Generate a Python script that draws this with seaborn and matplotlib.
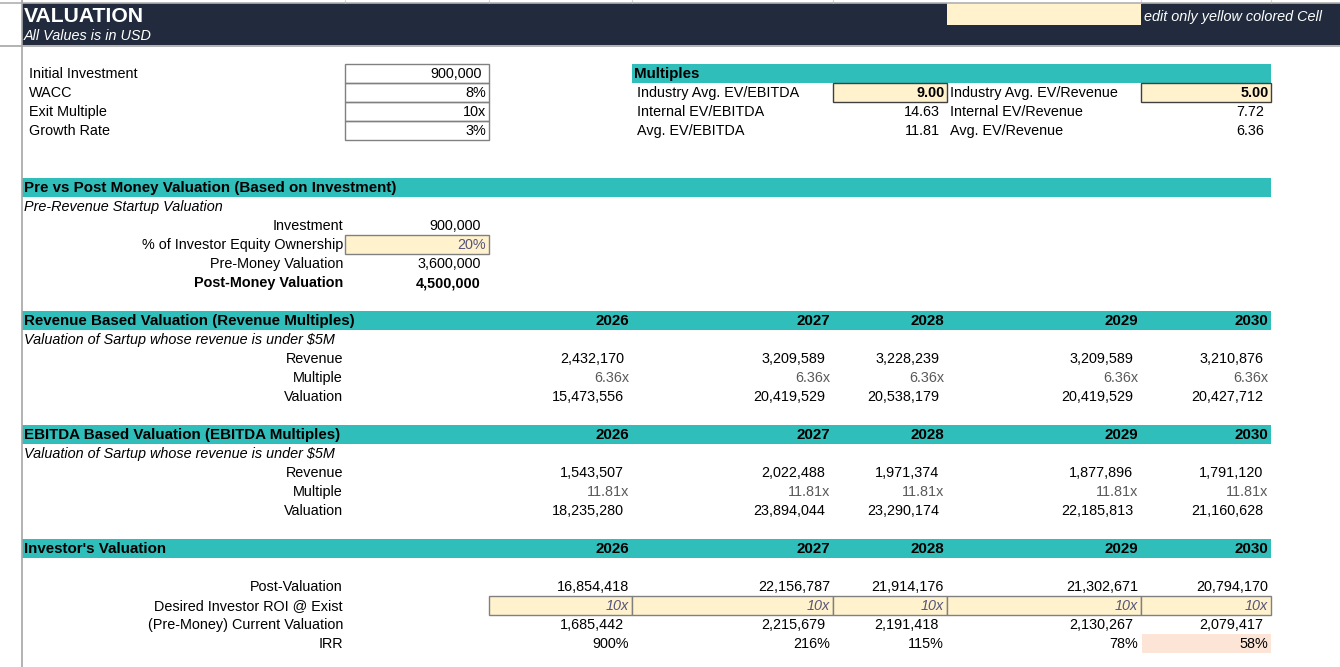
import numpy as np
import pandas as pd
import seaborn as sns
import matplotlib.pyplot as plt
from matplotlib.patches import Rectangle

# sheet values ----------------------------------------------------------------
years = [2026, 2027, 2028, 2029, 2030]

input_labels = ['Initial Investment', 'WACC', 'Exit Multiple', 'Growth Rate']
input_values = ['900,000', '8%', '10x', '3%']

ebitda_mult_labels = ['Industry Avg. EV/EBITDA', 'Internal EV/EBITDA', 'Avg. EV/EBITDA']
ebitda_mult_values = [9.00, 14.63, 11.81]
revenue_mult_labels = ['Industry Avg. EV/Revenue', 'Internal EV/Revenue', 'Avg. EV/Revenue']
revenue_mult_values = [5.00, 7.72, 6.36]

pre_labels = ['Investment', '% of Investor Equity Ownership', 'Pre-Money Valuation', 'Post-Money Valuation']
pre_values = ['900,000', '20%', '3,600,000', '4,500,000']

rev_revenue = [2432170, 3209589, 3228239, 3209589, 3210876]
rev_multiple = [6.36, 6.36, 6.36, 6.36, 6.36]
rev_valuation = [15473556, 20419529, 20538179, 20419529, 20427712]

ebitda_revenue = [1543507, 2022488, 1971374, 1877896, 1791120]
ebitda_multiple = [11.81, 11.81, 11.81, 11.81, 11.81]
ebitda_valuation = [18235280, 23894044, 23290174, 22185813, 21160628]

post_valuation = [16854418, 22156787, 21914176, 21302671, 20794170]
desired_roi = [10, 10, 10, 10, 10]
current_valuation = [1685442, 2215679, 2191418, 2130267, 2079417]
irr = [900, 216, 115, 78, 58]

# layout of the sheet ---------------------------------------------------------
year_right = [632, 833, 947, 1141, 1271]
roi_edges = [489, 632, 833, 947, 1141, 1271]
row_h = 19
row0 = 64
FS = 10.4
FS_HEAD = 10.9

NAVY = '#212b3d'
TEAL = '#30bebb'
YELLOW = '#fff2cc'
PINK = '#fce4d6'
GRID = '#d4d4d4'
BOX = '#808080'
DARKBOX = '#3f3f3f'
GREYTXT = '#595959'
INPUTTXT = '#55557a'


def top(r):
    return row0 + row_h * r


def mid(r):
    return top(r) + row_h / 2 + 0.5


def cell_text(ax, x, r, s, ha='left', **kw):
    kw.setdefault('fontsize', FS)
    kw.setdefault('color', 'black')
    ax.text(x, mid(r), s, ha=ha, va='center', **kw)


def box(ax, x0, x1, r, face='none', edge=BOX, lw=1.0):
    ax.add_patch(Rectangle((x0, top(r)), x1 - x0, row_h, facecolor=face,
                           edgecolor=edge, linewidth=lw, zorder=2))


def band(ax, x0, x1, r):
    ax.add_patch(Rectangle((x0, top(r)), x1 - x0, row_h, facecolor=TEAL,
                           edgecolor='none', zorder=1))


sns.set_theme(style='white')
plt.rcParams['font.family'] = ['Liberation Sans', 'DejaVu Sans']

fig = plt.figure(figsize=(13.4, 6.67), dpi=100)
ax = fig.add_axes([0, 0, 1, 1])
ax.set_xlim(0, 1340)
ax.set_ylim(667, 0)
ax.axis('off')

# gridlines above title and the left border
for x in [22, 345, 489, 632, 833, 1141, 1271]:
    ax.plot([x, x], [0, 3], color=GRID, lw=0.8)
ax.plot([0, 1340], [3, 3], color='#b0b0b0', lw=1.2)
ax.plot([22, 22], [0, 667], color='#a6a6a6', lw=1.2)

# title band
ax.add_patch(Rectangle((22, 3), 1318, 42, facecolor=NAVY, edgecolor='none'))
ax.plot([0, 1340], [45.5, 45.5], color='#a6a6a6', lw=1.2)
ax.add_patch(Rectangle((947, 3), 194, 22, facecolor=YELLOW, edgecolor='none'))
ax.text(24, 16.5, 'VALUATION', color='white', fontsize=15.2, fontweight='bold', va='center')
ax.text(24, 35.5, 'All Values is in USD', color='white', fontsize=FS, style='italic', va='center')
ax.text(1144, 16.5, 'edit only yellow colored Cell', color='white', fontsize=FS, style='italic', va='center')

# inputs
for i, (lab, val) in enumerate(zip(input_labels, input_values)):
    cell_text(ax, 29, i, lab)
    box(ax, 345, 489, i)
    pad = 7 if ',' in val else 3
    cell_text(ax, 489 - pad, i, val, ha='right')

# multiples
band(ax, 632, 1271, 0)
cell_text(ax, 634, 0, 'Multiples', fontweight='bold', fontsize=FS_HEAD)
for i in range(3):
    r = i + 1
    cell_text(ax, 637, r, ebitda_mult_labels[i])
    cell_text(ax, 950, r, revenue_mult_labels[i])
    if i == 0:
        box(ax, 833, 947, r, face=YELLOW, edge=DARKBOX)
        box(ax, 1141, 1271, r, face=YELLOW, edge=DARKBOX)
        cell_text(ax, 945, r, f'{ebitda_mult_values[i]:.2f}', ha='right', fontweight='bold')
        cell_text(ax, 1269, r, f'{revenue_mult_values[i]:.2f}', ha='right', fontweight='bold')
    else:
        cell_text(ax, 940, r, f'{ebitda_mult_values[i]:.2f}', ha='right')
        cell_text(ax, 1264, r, f'{revenue_mult_values[i]:.2f}', ha='right')

# pre vs post money
band(ax, 22, 1271, 6)
cell_text(ax, 24, 6, 'Pre vs Post Money Valuation (Based on Investment)', fontweight='bold', fontsize=FS_HEAD)
cell_text(ax, 24, 7, 'Pre-Revenue Startup Valuation', style='italic')
for i, (lab, val) in enumerate(zip(pre_labels, pre_values)):
    r = 8 + i
    bold = 'bold' if i == 3 else 'normal'
    cell_text(ax, 343, r, lab, ha='right', fontweight=bold)
    if i == 1:
        box(ax, 345, 489, r, face=YELLOW)
        cell_text(ax, 486, r, val, ha='right', color=INPUTTXT)
    else:
        cell_text(ax, 481, r, val, ha='right', fontweight=bold)


def year_header(r, title):
    band(ax, 22, 1271, r)
    cell_text(ax, 24, r, title, fontweight='bold', fontsize=FS_HEAD)
    for y, xr in zip(years, year_right):
        cell_text(ax, xr - 3, r, str(y), ha='right', fontweight='bold', fontsize=FS_HEAD)


def money_row(r, label, vals):
    cell_text(ax, 343, r, label, ha='right')
    for v, xr in zip(vals, year_right):
        cell_text(ax, xr - 8, r, f'{v:,.0f}', ha='right')


def mult_row(r, label, vals):
    cell_text(ax, 343, r, label, ha='right')
    for v, xr in zip(vals, year_right):
        cell_text(ax, xr - 3, r, f'{v:.2f}x', ha='right', color=GREYTXT)


# revenue based
year_header(13, 'Revenue Based Valuation (Revenue Multiples)')
cell_text(ax, 24, 14, 'Valuation of Sartup whose revenue is under $5M', style='italic')
money_row(15, 'Revenue', rev_revenue)
mult_row(16, 'Multiple', rev_multiple)
money_row(17, 'Valuation', rev_valuation)

# ebitda based
year_header(19, 'EBITDA Based Valuation (EBITDA Multiples)')
cell_text(ax, 24, 20, 'Valuation of Sartup whose revenue is under $5M', style='italic')
money_row(21, 'Revenue', ebitda_revenue)
mult_row(22, 'Multiple', ebitda_multiple)
money_row(23, 'Valuation', ebitda_valuation)

# investor's valuation
year_header(25, "Investor's Valuation")
cell_text(ax, 343, 27, 'Post-Valuation', ha='right')
for v, xr in zip(post_valuation, year_right):
    cell_text(ax, xr - 3, 27, f'{v:,.0f}', ha='right')

cell_text(ax, 343, 28, 'Desired Investor ROI @ Exist', ha='right')
for v, x0, x1 in zip(desired_roi, roi_edges[:-1], roi_edges[1:]):
    box(ax, x0, x1, 28, face=YELLOW)
    cell_text(ax, x1 - 3, 28, f'{v}x', ha='right', style='italic', color=INPUTTXT)

money_row(29, '(Pre-Money) Current Valuation', current_valuation)

cell_text(ax, 343, 30, 'IRR', ha='right')
ax.add_patch(Rectangle((1142, top(30)), 129, row_h, facecolor=PINK, edgecolor='none', zorder=1))
for v, xr in zip(irr, year_right):
    cell_text(ax, xr - 3, 30, f'{v}%', ha='right')

fig.savefig('out.png', dpi=100)
